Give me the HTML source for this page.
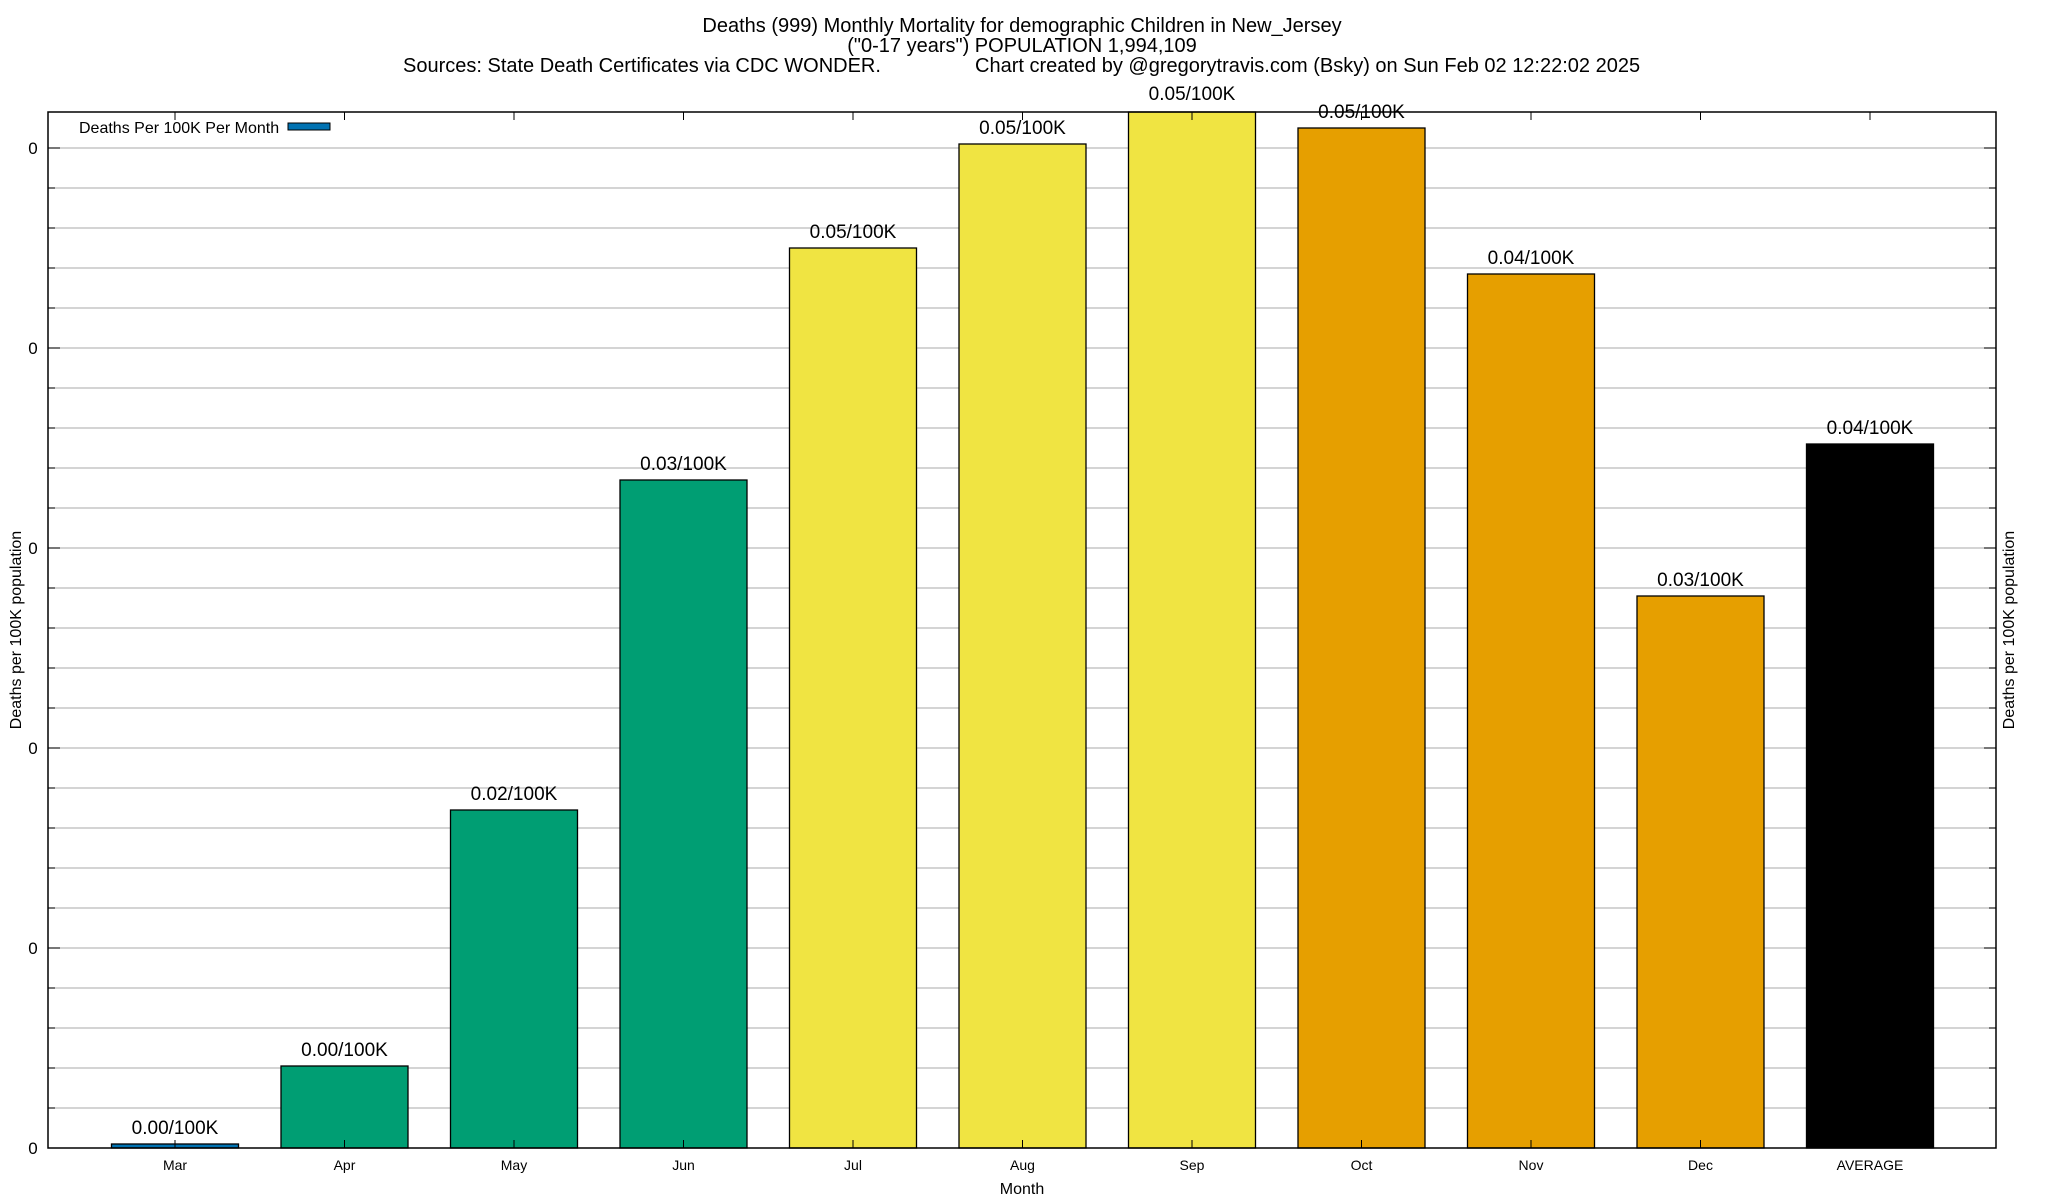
<!DOCTYPE html>
<html><head><meta charset="utf-8"><style>
html,body{margin:0;padding:0;background:#fff;width:2048px;height:1200px;overflow:hidden}
text{font-family:"Liberation Sans",Arial,sans-serif;fill:#000}
</style></head><body>
<svg id="chart" width="2048" height="1200" viewBox="0 0 2048 1200">
<g>
<text x="1022" y="32" font-size="20" text-anchor="middle">Deaths (999) Monthly Mortality for demographic Children in New_Jersey</text>
<text x="1022" y="52" font-size="20" text-anchor="middle">("0-17 years") POPULATION 1,994,109</text>
<text x="403" y="72" font-size="20">Sources: State Death Certificates via CDC WONDER.</text>
<text x="975" y="72" font-size="20">Chart created by @gregorytravis.com (Bsky) on Sun Feb 02 12:22:02 2025</text>
</g>
<g id="grid"></g>
<g id="bars"></g>
<g id="axes"></g>
<text x="21" y="630" font-size="16" text-anchor="middle" transform="rotate(-90 21 630)">Deaths per 100K population</text>
<text x="2014" y="630" font-size="16" text-anchor="middle" transform="rotate(-90 2014 630)">Deaths per 100K population</text>
<text x="1022" y="1194" font-size="16" text-anchor="middle">Month</text>
<g>
<text x="79" y="133" font-size="16">Deaths Per 100K Per Month</text>
<rect x="288" y="123" width="42" height="7" fill="#0072b2" stroke="#000" stroke-width="1"/>
</g>
</svg>
<script>
const categories = ["Mar","Apr","May","Jun","Jul","Aug","Sep","Oct","Nov","Dec","AVERAGE"];
const values = [0.0002,0.0041,0.0169,0.0334,0.0450,0.0502,0.0519,0.0510,0.0437,0.0276,0.0352];
const valueLabels = ["0.00/100K","0.00/100K","0.02/100K","0.03/100K","0.05/100K","0.05/100K","0.05/100K","0.05/100K","0.04/100K","0.03/100K","0.04/100K"];
const colors = ["#0072b2","#009e73","#009e73","#009e73","#f0e442","#f0e442","#f0e442","#e69f00","#e69f00","#e69f00","#000000"];
const yTicks = [0,0.01,0.02,0.03,0.04,0.05];
const yTickLabels = ["0","0","0","0","0","0"];
const yMinorStep = 0.002;

const L=48,R=1996,T=112,B=1148;
const yMax = (B-T)/40*0.002;
const ys = v => B - v/yMax*(B-T);
const xs = i => 175 + i*169.5;
const NS="http://www.w3.org/2000/svg";
function mk(tag, attrs, parent, txt){const e=document.createElementNS(NS,tag);for(const k in attrs)e.setAttribute(k,attrs[k]);if(txt!==undefined)e.textContent=txt;parent.appendChild(e);return e;}
const grid=document.getElementById('grid'),bars=document.getElementById('bars'),axes=document.getElementById('axes');
for(let k=1;k*yMinorStep<yMax;k++){
  const y=ys(k*yMinorStep);
  const g=mk('line',{x1:L,x2:R,y1:y,y2:y,stroke:'#bbb','stroke-width':1.3},grid);
  
  
  const t1=mk('line',{x1:L,x2:L+7,y1:y,y2:y,stroke:'#000','stroke-width':1},axes);
  
  
  const t2=mk('line',{x1:R-7,x2:R,y1:y,y2:y,stroke:'#000','stroke-width':1},axes);
  
  
}
yTicks.forEach((v,i)=>{
  const y=ys(v);
  const t=mk('text',{x:33,y:y+6,'font-size':17,'text-anchor':'middle'},axes,yTickLabels[i]);
  
  
  const tk=mk('line',{x1:L,x2:L+12,y1:y,y2:y,stroke:'#000','stroke-width':1},axes);
  
  
  const tk2=mk('line',{x1:R-12,x2:R,y1:y,y2:y,stroke:'#000','stroke-width':1},axes);
  
  
});
categories.forEach((c,i)=>{
  const cx=xs(i), w=127;
  const yTop=Math.max(T, ys(values[i]));
  const r=mk('rect',{x:cx-w/2,y:yTop,width:w,height:B-yTop,fill:colors[i],stroke:'#000','stroke-width':1.3},bars);
  
  
  const lb=mk('text',{x:cx,y:ys(values[i])-10,'font-size':19,'text-anchor':'middle'},bars,valueLabels[i]);
  
  
  const xl=mk('text',{x:cx,y:1170,'font-size':14,'text-anchor':'middle'},axes,c);
  
  
  const tt=mk('line',{x1:cx,x2:cx,y1:T,y2:T+8,stroke:'#000','stroke-width':1},axes);
  
  
  const tb=mk('line',{x1:cx,x2:cx,y1:B-8,y2:B,stroke:'#000','stroke-width':1},axes);
  
  
});
const fr=mk('rect',{x:L,y:T,width:R-L,height:B-T,fill:'none',stroke:'#000','stroke-width':1.5},axes);


</script>
</body></html>
